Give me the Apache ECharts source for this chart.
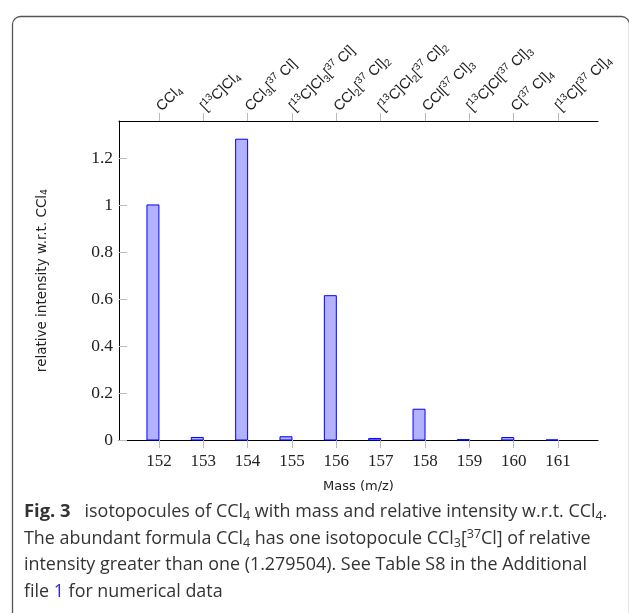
<!DOCTYPE html>
<html>
<head>
<meta charset="utf-8">
<script src="https://cdn.jsdelivr.net/npm/echarts@6/dist/echarts.min.js"></script>
<style>
  html, body { margin: 0; padding: 0; background: #fff; }
  #main { width: 629px; height: 613px; }
</style>
</head>
<body>
<div id="main"></div>
<script>
// m/z of each isotopocule
const masses = [152, 153, 154, 155, 156, 157, 158, 159, 160, 161];
// relative intensity w.r.t. CCl4
const intensities = [1.0, 0.0108, 1.2795, 0.0138, 0.6139, 0.0066, 0.1309, 0.0014, 0.0105, 0.0001];
// top axis labels (rich text)
const formulas = [
  "{n|CCl}{sb|4}",
  "{n|[}{sp|13}{n|C]Cl}{sb|4}",
  "{n|CCl}{sb|3}{n|[}{sp|37}{n| Cl]}",
  "{n|[}{sp|13}{n|C]Cl}{sb|3}{n|[}{sp|37}{n| Cl]}",
  "{n|CCl}{sb|2}{n|[}{sp|37}{n| Cl]}{sb|2}",
  "{n|[}{sp|13}{n|C]Cl}{sb|2}{n|[}{sp|37}{n| Cl]}{sb|2}",
  "{n|CCl[}{sp|37}{n| Cl]}{sb|3}",
  "{n|[}{sp|13}{n|C]Cl[}{sp|37}{n| Cl]}{sb|3}",
  "{n|C[}{sp|37}{n| Cl]}{sb|4}",
  "{n|[}{sp|13}{n|C][}{sp|37}{n| Cl]}{sb|4}"
];
const yTicks = [0, 0.2, 0.4, 0.6, 0.8, 1, 1.2];

const chart = echarts.init(document.getElementById("main"));

const tickStyle = { color: "#bbb", width: 1 };
const serif = "Liberation Serif";
const sans = "DejaVu Sans";

const options = {
  animation: false,
  grid: { left: 119, right: 31, top: 121, bottom: 173 },
  xAxis: [
    {
      type: "value",
      position: "bottom",
      min: 151.1,
      max: 161.9,
      axisLine: { show: true, lineStyle: { color: "#000", width: 1 } },
      axisTick: { show: true, inside: false, length: 8, customValues: masses, lineStyle: tickStyle },
      axisLabel: {
        customValues: masses,
        margin: 13,
        fontFamily: serif,
        fontSize: 17,
        color: "#222"
      },
      splitLine: { show: false },
      name: "Mass (m/z)",
      nameLocation: "middle",
      nameGap: 40,
      nameTextStyle: { fontFamily: sans, fontSize: 13, color: "#222" }
    },
    {
      type: "value",
      position: "top",
      min: 151.1,
      max: 161.9,
      axisLine: { show: true, lineStyle: { color: "#000", width: 1 } },
      axisTick: { show: true, inside: false, length: 8, customValues: masses, lineStyle: tickStyle },
      axisLabel: {
        customValues: masses,
        rotate: -45,
        margin: 12,
        formatter: (v) => formulas[masses.indexOf(Math.round(v))],
        rich: {
          n: { fontFamily: "Liberation Sans", fontSize: 14.5, color: "#222", lineHeight: 18 },
          sb: { fontFamily: "Liberation Sans", fontSize: 10, color: "#222", verticalAlign: "bottom", lineHeight: 18 },
          sp: { fontFamily: "Liberation Sans", fontSize: 10, color: "#222", verticalAlign: "top", lineHeight: 18 }
        }
      },
      splitLine: { show: false }
    }
  ],
  yAxis: {
    type: "value",
    min: 0,
    max: 1.357,
    axisLine: { show: true, lineStyle: { color: "#000", width: 1 } },
    axisTick: { show: true, inside: true, length: 8, customValues: yTicks, lineStyle: tickStyle },
    axisLabel: {
      customValues: yTicks,
      margin: 6,
      fontFamily: serif,
      fontSize: 17.5,
      color: "#222",
      formatter: (v) => String(Math.round(v * 10) / 10)
    },
    splitLine: { show: false },
    name: "{n|relative intensity w.r.t. CCl}{s|4}",
    nameLocation: "middle",
    nameGap: 69,
    nameTextStyle: {
      rich: {
        n: { fontFamily: sans, fontSize: 13.5, color: "#222", lineHeight: 16 },
        s: { fontFamily: sans, fontSize: 9.5, color: "#222", verticalAlign: "bottom", lineHeight: 16 }
      }
    }
  },
  series: [
    {
      type: "custom",
      xAxisIndex: 0,
      yAxisIndex: 0,
      data: masses.map((m, i) => [m, intensities[i]]),
      renderItem: (params, api) => {
        const base = api.coord([api.value(0), 0]);
        const top = api.coord([api.value(0), api.value(1)]);
        const w = api.size([0.27, 0])[0];
        return {
          type: "rect",
          shape: { x: base[0] - w, y: top[1], width: w, height: base[1] - top[1] },
          style: { fill: "rgba(0,0,255,0.3)", stroke: "#0000ff", lineWidth: 1 }
        };
      }
    }
  ],
  graphic: [
    {
      type: "rect",
      left: 10,
      top: 14,
      shape: { width: 617, height: 700, r: 8 },
      style: { fill: "none", stroke: "#555", lineWidth: 1.3 },
      silent: true
    },
    {
      type: "group",
      left: 24,
      top: 503,
      children: [
        "{b|Fig. 3}{t|   isotopocules of CCl}{s|4}{t| with mass and relative intensity w.r.t. CCl}{s|4}{t|.}",
        "{t|The abundant formula CCl}{s|4}{t| has one isotopocule CCl}{s|3}{t|[}{p|37}{t|Cl] of relative}",
        "{t|intensity greater than one (1.279504). See Table S8 in the Additional}",
        "{t|file }{l|1}{t| for numerical data}"
      ].map((line, i) => ({
        type: "text",
        x: 0,
        y: i * 26.7,
        style: {
          text: line,
          rich: {
            b: { fontFamily: "Open Sans", fontWeight: "bold", fontSize: 18.4, fill: "#333", lineHeight: 22 },
            t: { fontFamily: "Open Sans", fontSize: 17.9, fill: "#333", lineHeight: 22 },
            l: { fontFamily: "Open Sans", fontSize: 17.9, fill: "#2a2adf", lineHeight: 22 },
            s: { fontFamily: "Open Sans", fontSize: 12.5, fill: "#333", verticalAlign: "bottom", lineHeight: 22 },
            p: { fontFamily: "Open Sans", fontSize: 12.5, fill: "#333", verticalAlign: "top", lineHeight: 22 }
          }
        }
      }))
    }
  ]
};

chart.setOption(options);
</script>
</body>
</html>
